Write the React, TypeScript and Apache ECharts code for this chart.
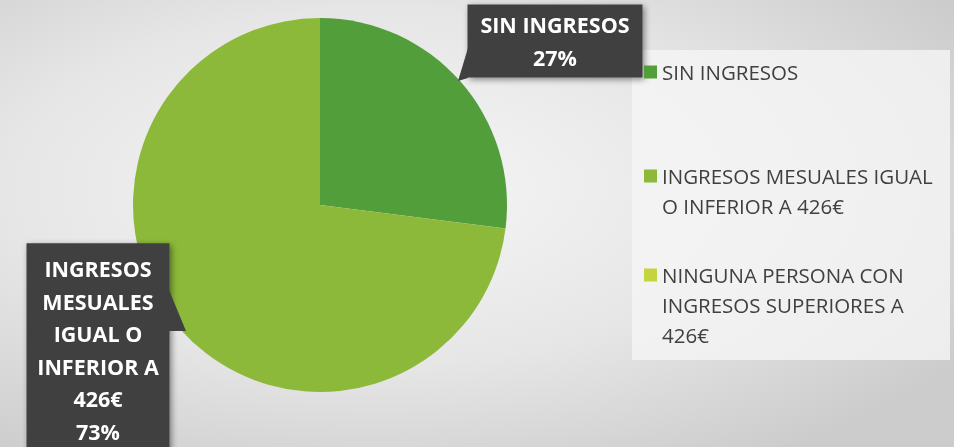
import React, { useEffect, useRef } from "react";
import * as echarts from "echarts";

const categories = [
  "SIN INGRESOS",
  "INGRESOS MESUALES IGUAL O INFERIOR A 426€",
  "NINGUNA PERSONA CON INGRESOS SUPERIORES A 426€",
];
const values = [27, 73, 0];
const colors = ["#529e3b", "#8cb93a", "#c5d33c"];
const legendLabels = [
  "SIN INGRESOS",
  "INGRESOS MESUALES IGUAL\nO INFERIOR A 426€",
  "NINGUNA PERSONA CON\nINGRESOS SUPERIORES A\n426€",
];
const dataLabels = ["SIN INGRESOS", "INGRESOS\nMESUALES\nIGUAL O\nINFERIOR A\n426€"];

const FONT = "'Open Sans', Lato, sans-serif";

export default function App() {
  const ref = useRef<HTMLDivElement>(null);
  useEffect(() => {
    if (!ref.current) return;
    const chart = echarts.init(ref.current, undefined, { renderer: "svg" });
    const legendTops = [57, 131, 200];
    const legends = categories.map((c, i) => ({
      data: [c],
      orient: "vertical",
      left: 644,
      top: legendTops[i],
      padding: 0,
      itemWidth: 13,
      itemHeight: 13,
      icon: "rect",
      selectedMode: false,
      formatter: (name: string) => {
        const lines = legendLabels[categories.indexOf(name)].split("\n");
        const pad = new Array(lines.length - 1).fill(" ");
        return [...pad, ...lines].join("\n");
      },
      textStyle: {
        fontFamily: FONT,
        fontSize: 20.5,
        color: "#404040",
        lineHeight: 30,
      },
    }));
    chart.setOption({
      animation: false,
      backgroundColor: new echarts.graphic.RadialGradient(0.4, 0.42, 0.72, [
        { offset: 0, color: "#f6f6f6" },
        { offset: 0.55, color: "#e6e6e6" },
        { offset: 1, color: "#cccccc" },
      ]),
      color: colors,
      legend: legends,
      graphic: [
        {
          type: "rect",
          z: 0,
          shape: { x: 632, y: 50, width: 318, height: 310 },
          style: { fill: "rgba(245,245,245,0.8)" },
        },
        {
          type: "polygon",
          z: 10,
          shape: { points: [[468, 48], [468, 78], [458, 81]] },
          style: { fill: "#404040" },
        },
        {
          type: "polygon",
          z: 10,
          shape: { points: [[169, 290], [186, 331], [169, 331]] },
          style: { fill: "#404040" },
        },
      ],
      series: [
        {
          type: "pie",
          center: [320, 205],
          radius: 187,
          startAngle: 90,
          clockwise: true,
          silent: true,
          emphasis: { disabled: true },
          itemStyle: { borderWidth: 0 },
          labelLine: { show: false },
          label: {
            show: true,
            position: "outside",
            color: "#ffffff",
            fontFamily: FONT,
            fontWeight: "bold",
            fontSize: 21.5,
            lineHeight: 32.6,
            align: "center",
            backgroundColor: "#404040",
            shadowColor: "rgba(0,0,0,0.45)",
            shadowBlur: 6,
            shadowOffsetX: 2,
            shadowOffsetY: 2,
            formatter: (p: any) => `${dataLabels[p.dataIndex]}\n${Math.round(p.percent)}%`,
          },
          labelLayout: (p: any) =>
            p.dataIndex === 0
              ? { x: 555, y: 41, align: "center", verticalAlign: "middle" }
              : { x: 98, y: 350, align: "center", verticalAlign: "middle" },
          data: categories.map((c, i) => ({
            name: c,
            value: values[i],
            label:
              i === 0
                ? { padding: [4, 10, 4, 10], width: 155 }
                : i === 1
                ? { padding: [9, 10, 9, 10], width: 123 }
                : { show: false },
          })),
        },
      ],
    });
    return () => chart.dispose();
  }, []);
  return (
    <div
      ref={ref}
      style={{ position: "fixed", left: 0, top: 0, width: 954, height: 447 }}
    />
  );
}
